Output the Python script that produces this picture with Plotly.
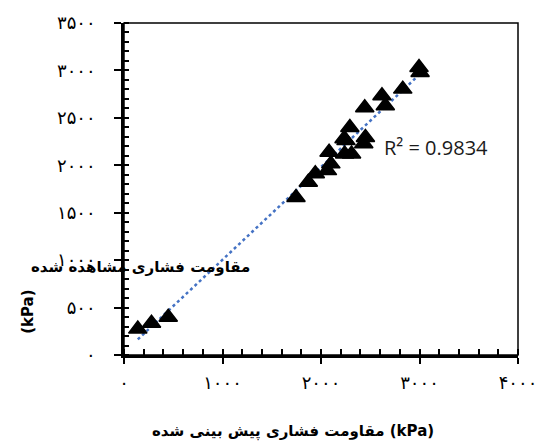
import numpy as np
import plotly.graph_objects as go

# Predicted compressive strength (kPa) and observed compressive strength (kPa)
predicted = [140, 279, 449, 1746, 1871, 1942, 2065, 2100, 2082, 2240, 2310,
             2254, 2293, 2451, 2444, 2619, 2653, 2830, 2995, 3006, 2234, 2434]
observed = [273, 336, 399, 1661, 1821, 1910, 1944, 2015, 2137, 2120, 2120,
            2260, 2399, 2294, 2606, 2733, 2628, 2803, 3030, 2978, 2281, 2228]

x_tick_vals = [0, 1000, 2000, 3000, 4000]
x_tick_text = ["۰", "۱۰۰۰", "۲۰۰۰", "۳۰۰۰", "۴۰۰۰"]
y_tick_vals = [0, 500, 1000, 1500, 2000, 2500, 3000, 3500]
y_tick_text = ["۰", "۵۰۰", "۱۰۰۰", "۱۵۰۰", "۲۰۰۰", "۲۵۰۰", "۳۰۰۰", "۳۵۰۰"]

x_title = "مقاومت فشاری پیش بینی شده (kPa)"
y_title_main = "مقاومت فشاری مشاهده شده"
y_title_unit = "(kPa)"
r2_text = "R² = 0.9834"

# linear trendline over the data range
slope, intercept = np.polyfit(predicted, observed, 1)
tx = np.array([min(predicted), max(predicted)])
ty = slope * tx + intercept

fig = go.Figure()
fig.add_trace(go.Scatter(
    x=tx, y=ty, mode="lines",
    line=dict(color="#4472C4", width=2.5, dash="dot"),
    hoverinfo="skip", showlegend=False))
fig.add_trace(go.Scatter(
    x=predicted, y=observed, mode="markers",
    marker=dict(symbol="triangle-up", size=16, color="black",
                line=dict(color="black", width=1.5)),
    showlegend=False))

tick_font = dict(family="DejaVu Sans", size=18, color="black")

fig.update_xaxes(
    range=[0, 4000], tickvals=x_tick_vals, ticktext=x_tick_text,
    ticks="outside", ticklen=6, tickwidth=2, tickcolor="black",
    showline=True, linecolor="black", linewidth=2.5,
    showgrid=False, zeroline=False, tickfont=tick_font,
    ticklabelstandoff=4,
    minor=dict(dtick=200, ticks="inside", ticklen=6, tickwidth=2, tickcolor="black", showgrid=False),
)
fig.update_yaxes(
    range=[0, 3500], tickvals=y_tick_vals, ticktext=y_tick_text,
    ticks="outside", ticklen=7, tickwidth=2, tickcolor="black",
    showline=True, linecolor="black", linewidth=2.5,
    showgrid=False, zeroline=False, tickfont=tick_font,
    ticklabelstandoff=15,
    minor=dict(dtick=100, ticks="inside", ticklen=5, tickwidth=2, tickcolor="black", showgrid=False),
)

fig.add_shape(type="rect", xref="paper", yref="paper", x0=0, y0=0, x1=1, y1=1,
              line=dict(color="black", width=1.5), layer="above")

fig.add_annotation(x=2623, y=2186, xref="x", yref="y", text=r2_text,
                   showarrow=False, xanchor="left", yanchor="middle",
                   font=dict(family="Open Sans", size=20, color="#1a1a1a"))

fig.add_annotation(x=0.43, y=-0.23, xref="paper", yref="paper", text="<b>" + x_title + "</b>",
                   showarrow=False, xanchor="center", yanchor="middle",
                   font=dict(family="DejaVu Sans", size=15, color="black"))
fig.add_annotation(x=0.043, y=0.264, xref="paper", yref="paper", text="<b>" + y_title_main + "</b>",
                   showarrow=False, xanchor="center", yanchor="middle",
                   font=dict(family="DejaVu Sans", size=15, color="black"))
fig.add_annotation(x=-0.242, y=0.129, xref="paper", yref="paper", text="<b>" + y_title_unit + "</b>",
                   showarrow=False, textangle=-90, xanchor="center", yanchor="middle",
                   font=dict(family="DejaVu Sans", size=15, color="black"))

fig.update_layout(
    width=549, height=444,
    margin=dict(l=124, r=24, t=22, b=89),
    paper_bgcolor="white", plot_bgcolor="white",
)

fig.write_html("out.html", config={"displayModeBar": False},
               post_script="document.body.style.margin='0';")
